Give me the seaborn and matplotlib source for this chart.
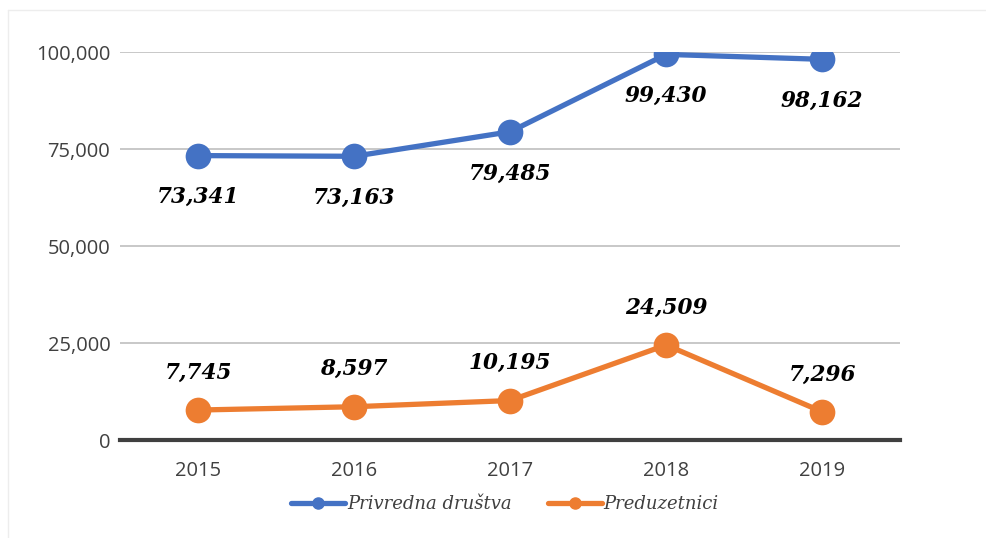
import matplotlib.pyplot as plt
import seaborn as sns
import pandas as pd

years = ["2015", "2016", "2017", "2018", "2019"]
privredna = [73341, 73163, 79485, 99430, 98162]
preduzetnici = [7745, 8597, 10195, 24509, 7296]
series_names = ["Privredna društva", "Preduzetnici"]
colors = ["#4472C4", "#ED7D31"]

df = pd.DataFrame({
    "Godina": years * 2,
    "Vrijednost": privredna + preduzetnici,
    "Serija": [series_names[0]] * 5 + [series_names[1]] * 5,
})

sns.set_style("white")
plt.rcParams["font.family"] = ["Open Sans", "DejaVu Sans"]

fig = plt.figure(figsize=(9.86, 5.38), dpi=100)
ax = fig.add_axes([0.1217, 0.182, 0.7913, 0.721])

sns.lineplot(data=df, x="Godina", y="Vrijednost", hue="Serija",
             palette=colors, marker="o", markersize=18.5, linewidth=3.8,
             markeredgewidth=0, ax=ax, legend=False, sort=False)

ax.set_ylim(0, 100000)
ax.set_xlim(-0.5, 4.5)
ax.set_yticks([0, 25000, 50000, 75000, 100000])
ax.set_yticklabels([f"{v:,}" for v in [0, 25000, 50000, 75000, 100000]])
ax.yaxis.grid(True, color="#c4c4c4", linewidth=1.3)
ax.set_axisbelow(True)
for s in ["top", "right", "left"]:
    ax.spines[s].set_visible(False)
ax.spines["bottom"].set_color("#404040")
ax.spines["bottom"].set_linewidth(3)
ax.tick_params(axis="both", length=0, labelsize=14.5, labelcolor="#404040")
ax.tick_params(axis="y", pad=7)
ax.tick_params(axis="x", pad=15)
ax.set_xlabel("")
ax.set_ylabel("")

label_font = dict(family=["DejaVu Serif"], fontsize=15.5, fontweight="bold",
                  fontstyle="italic", color="black", ha="center", va="center")
for i, v in enumerate(privredna):
    ax.annotate(f"{v:,}", (i, v), xytext=(0, -30), textcoords="offset points", **label_font)
for i, v in enumerate(preduzetnici):
    ax.annotate(f"{v:,}", (i, v), xytext=(0, 27), textcoords="offset points", **label_font)

# faint chart-area border
fig.add_artist(plt.Line2D([0.008, 0.008], [0, 0.982], color="#ededed", linewidth=1))
fig.add_artist(plt.Line2D([0.008, 1], [0.982, 0.982], color="#ededed", linewidth=1))

handles = [plt.Line2D([0], [0], color=c, linewidth=3.8, marker="o", markersize=8)
           for c in colors]
fig.legend(handles, series_names, loc="center", bbox_to_anchor=(0.512, 0.063),
           ncol=2, frameon=False, handlelength=3.0, columnspacing=2.0, handletextpad=0.1,
           prop=dict(family=["DejaVu Serif"], style="italic", size=13))
for t in fig.legends[0].get_texts():
    t.set_color("#404040")

fig.savefig("out.png", dpi=100, facecolor="white")
